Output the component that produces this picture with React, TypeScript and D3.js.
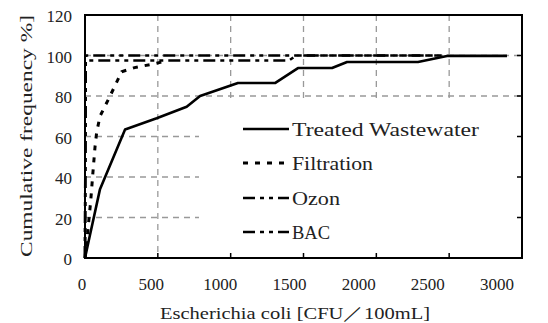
import React from "react";
import * as d3 from "d3";

const xTicks = [0, 500, 1000, 1500, 2000, 2500, 3000];
const yTicks = [0, 20, 40, 60, 80, 100, 120];

const treatedX = [0, 30, 103, 275, 492, 698, 790, 1050, 1304, 1462, 1696, 1799, 2286, 2485, 2897];
const treatedY = [0, 10, 34, 63.5, 69, 74.7, 80, 86.4, 86.4, 93.8, 93.8, 96.8, 96.8, 99.8, 99.8];

const filtX = [0, 16, 39, 53, 69, 80, 103, 172, 252, 340, 480, 540];
const filtY = [0, 11, 28, 41, 55, 62, 70, 80, 92, 94, 96, 97];

const ozonX = [0, 5, 2450];
const ozonY = [0, 100, 100];

const bacX = [0, 5, 1400, 1450, 2450];
const bacY = [0, 97.5, 97.5, 100, 100];

const seriesNames = ["Treated Wastewater", "Filtration", "Ozon", "BAC"];
const seriesDash = ["", "5,7", "12,5,4,5,4,5", "12,5,4,5,4,5"];
const seriesWidth = [2.6, 3, 2.6, 2.6];
const legendTextLen = [187, 81, 48, 38];

const W = 548, H = 323;
const L = 85, R = 522, T = 15, B = 258;

export default function App() {
  const x = d3.scaleLinear().domain([0, 3000]).range([L, R]);
  const y = d3.scaleLinear().domain([0, 120]).range([B, T]);
  const xLab = d3.scaleLinear().domain([0, 3000]).range([82, 497]);
  const line = d3.line<[number, number]>().x(d => x(d[0])).y(d => y(d[1]));
  const mk = (xs: number[], ys: number[]) => xs.map((v, i) => [v, ys[i]] as [number, number]);
  const series = [mk(treatedX, treatedY), mk(filtX, filtY), mk(ozonX, ozonY), mk(bacX, bacY)];
  const font = "'Liberation Serif', 'DejaVu Serif', serif";
  const legRows = [129, 163, 198, 232];

  return (
    <svg width={W} height={H} style={{ position: "absolute", left: 0, top: 0, background: "#fff" }}>
      <rect x={0} y={0} width={W} height={H} fill="#fff" />
      {xTicks.filter(v => v > 0 && v < 3000).map(v => (
        <line key={"gx" + v} x1={x(v)} x2={x(v)} y1={T} y2={B} stroke="#999" strokeWidth={1.3} strokeDasharray="6,5" />
      ))}
      {yTicks.filter(v => v > 0 && v < 120).map(v => (
        <line key={"gy" + v} x1={L} x2={R} y1={y(v)} y2={y(v)} stroke="#999" strokeWidth={1.3} strokeDasharray="6,5" />
      ))}
      <rect x={199} y={100} width={R - 199} height={B - 100} fill="#fff" />
      {series.map((s, i) => (
        <path key={"s" + i} d={line(s) || ""} fill="none" stroke="#000" strokeWidth={seriesWidth[i]}
          strokeDasharray={seriesDash[i] || undefined} strokeLinejoin="round" />
      ))}
      <rect x={L} y={T} width={R - L} height={B - T} fill="none" stroke="#000" strokeWidth={2} />
      {xTicks.filter(v => v > 0 && v < 3000).map(v => (
        <line key={"tx" + v} x1={x(v)} x2={x(v)} y1={B} y2={B - 5} stroke="#000" strokeWidth={1.5} />
      ))}
      {yTicks.filter(v => v > 0 && v < 120).map(v => (
        <line key={"ty" + v} x1={R} x2={R - 5} y1={y(v)} y2={y(v)} stroke="#000" strokeWidth={1.5} />
      ))}
      {xTicks.map(v => (
        <text key={"lx" + v} x={xLab(v)} y={290} textAnchor="middle" fontFamily={font} fontSize={17} fill="#222">{v}</text>
      ))}
      {yTicks.map(v => (
        <text key={"ly" + v} x={72} y={y(v) + 7} textAnchor="end" fontFamily={font} fontSize={17} fill="#222">{v}</text>
      ))}
      <text x={160} y={319} fontFamily={font} fontSize={17} fill="#222" textLength={270} lengthAdjust="spacingAndGlyphs">
        Escherichia coli [CFU／100mL]
      </text>
      <text transform="translate(32,257) rotate(-90)" fontFamily={font} fontSize={17} fill="#222" textLength={242} lengthAdjust="spacingAndGlyphs">
        Cumulative frequency  %]
      </text>
      {seriesNames.map((n, i) => (
        <g key={"lg" + i}>
          <line x1={243} x2={289} y1={legRows[i]} y2={legRows[i]} stroke="#000" strokeWidth={seriesWidth[i]}
            strokeDasharray={seriesDash[i] || undefined} />
          <text x={292} y={legRows[i] + 7} fontFamily={font} fontSize={19} fill="#222" textLength={legendTextLen[i]} lengthAdjust="spacingAndGlyphs">{n}</text>
        </g>
      ))}
    </svg>
  );
}
